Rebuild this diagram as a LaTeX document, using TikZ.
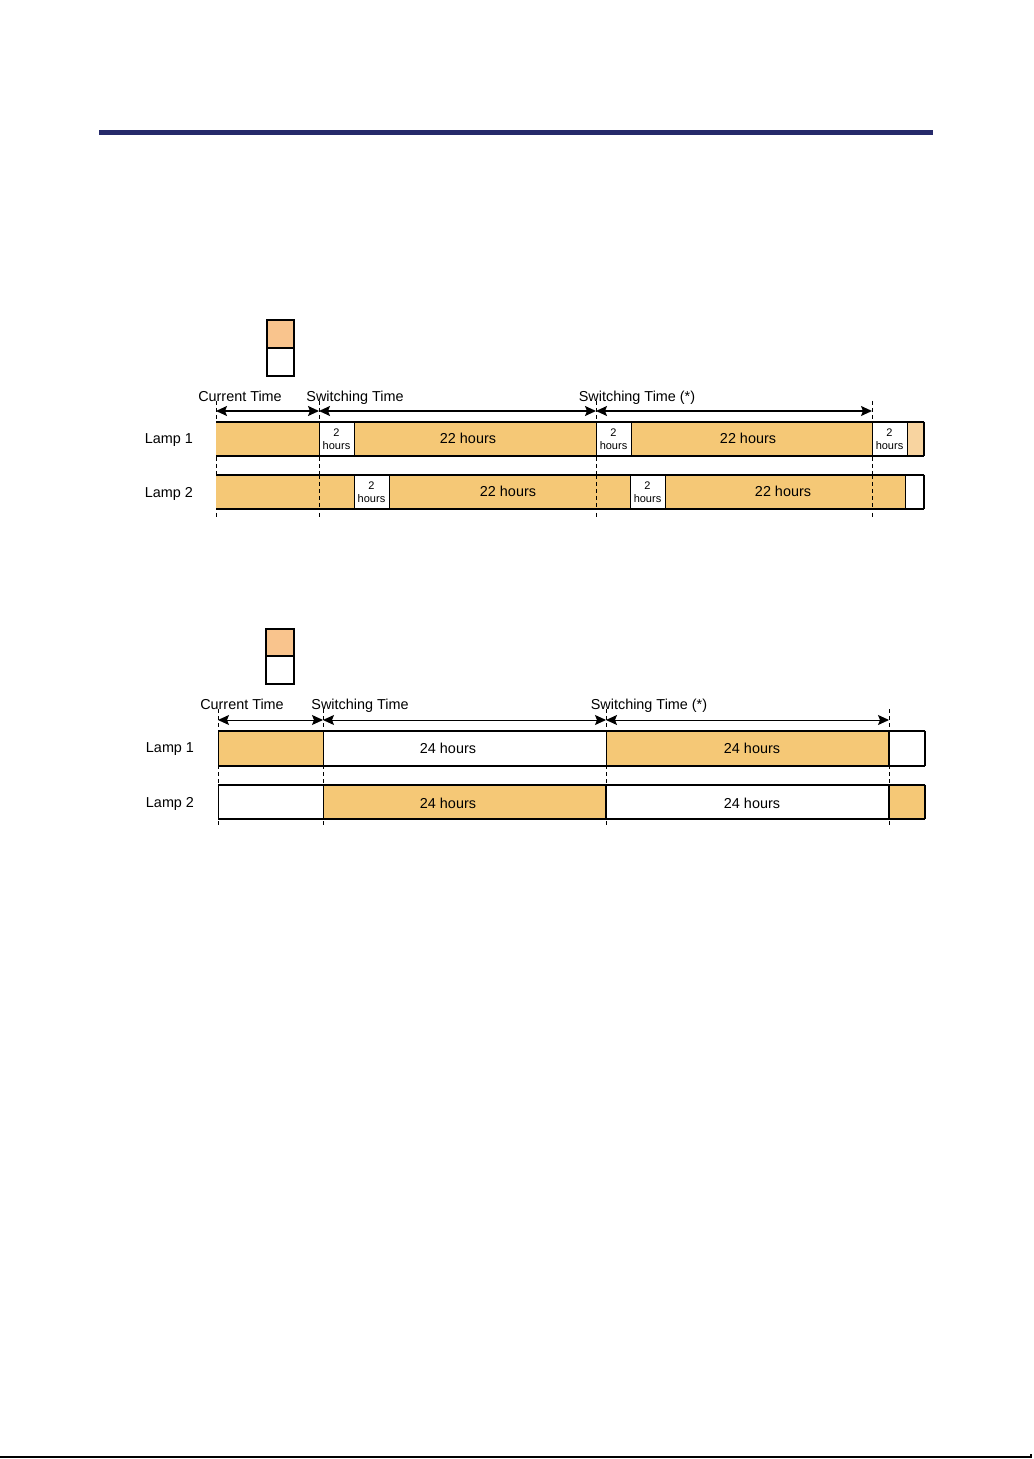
\documentclass[tikz,border=0pt]{standalone}
\usepackage{fontspec}
\setmainfont{Liberation Sans}
\usetikzlibrary{arrows.meta}
\definecolor{lampon}{RGB}{245,200,118}
\definecolor{legon}{RGB}{249,196,141}
\definecolor{lampfade}{RGB}{248,212,160}
\definecolor{rulenavy}{RGB}{38,42,106}

\begin{document}
\begin{tikzpicture}[
  x=0.5pt, y=-0.5pt,
  lbl/.style={font=\fontsize{7.2}{8.5}\selectfont, inner sep=0pt, anchor=base},
  small/.style={font=\fontsize{5.5}{6.75}\selectfont, align=center, inner sep=0pt},
  edge/.style={black, line width=0.7pt},
  sep/.style={black, line width=0.5pt},
  tline/.style={black, line width=0.45pt, dash pattern=on 2pt off 1.5pt},
  span/.style={{Stealth[length=5.5pt,width=5pt,inset=1pt]}-{Stealth[length=5.5pt,width=5pt,inset=1pt]}, line width=0.7pt},
  legbox/.style={draw=black, line width=0.6pt},
]
\useasboundingbox (0,0) rectangle (1033,1459);
% page rules
\fill[rulenavy] (99,130) rectangle (933,135);
\draw[black, line width=0.75pt] (0,1457) -- (1031,1457) -- (1031,1454);

% ---------- upper chart: 2 hour switching ----------
\fill[legon] (267,320) rectangle (294,348);
\draw[legbox] (267,320) rectangle (294,376) (267,348) -- (294,348);
% time marks
\foreach \x/\n in {216/a0, 319/a1, 596/a2, 872/a3}{
  \coordinate (\n) at (\x,411);
  \draw[tline] (\x,401) -- (\x,518);
}
\node[lbl] (curA) at (240,401.5) {Current Time};
\node[lbl] (swA) at (355,401.5) {Switching Time};
\node[lbl] (swsA) at (637,401.5) {Switching Time (*)};
\draw[span] (a0) -- (a1);
\draw[span] (a1) -- (a2);
\draw[span] (a2) -- (a3);
% lamp 1
\foreach \a/\b/\c in {216/319/lampon, 319/354/white, 354/596/lampon, 596/631/white, 631/872/lampon, 872/907/white, 907/924/lampfade}
  \fill[fill=\c] (\a,422) rectangle (\b,456);
\foreach \x in {319,354,596,631,872,907}
  \draw[sep] (\x,422) -- (\x,456);
\draw[edge] (216,422) -- (924,422) (216,456) -- (924,456);
\draw[black, line width=1pt] (924,421.6) -- (924,456.4);
\node[lbl] (lampA1) at (169,443.5) {Lamp 1};
\node[small] (hA1) at (336.5,439) {2\\hours};
\node[lbl] (dA1) at (468,444) {22 hours};
\node[small] (hA2) at (613.5,439) {2\\hours};
\node[lbl] (dA2) at (748,444) {22 hours};
\node[small] (hA3) at (889.5,439) {2\\hours};
% lamp 2
\foreach \a/\b/\c in {216/354/lampon, 354/389/white, 389/630/lampon, 630/665/white, 665/905/lampon, 905/924/white}
  \fill[fill=\c] (\a,475) rectangle (\b,509);
\foreach \x in {354,389,630,665,905}
  \draw[sep] (\x,475) -- (\x,509);
\foreach \x in {319,596,872}
  \draw[tline] (\x,475) -- (\x,509);
\draw[edge] (216,475) -- (924,475) (216,509) -- (924,509);
\draw[black, line width=1pt] (924,474.6) -- (924,509.4);
\node[lbl] (lampA2) at (169,497.5) {Lamp 2};
\node[small] (hA4) at (371.5,492) {2\\hours};
\node[lbl] (dA3) at (508,497) {22 hours};
\node[small] (hA5) at (647.5,492) {2\\hours};
\node[lbl] (dA4) at (783,497) {22 hours};

% ---------- lower chart: 24 hour switching ----------
\fill[legon] (266,629) rectangle (294,656);
\draw[legbox] (266,629) rectangle (294,684) (266,656) -- (294,656);
\foreach \x/\n in {218/b0, 323/b1, 606/b2, 889/b3}{
  \coordinate (\n) at (\x,720);
  \draw[tline] (\x,709) -- (\x,828);
}
\node[lbl] (curB) at (242,709) {Current Time};
\node[lbl] (swB) at (360,709) {Switching Time};
\node[lbl] (swsB) at (649,709) {Switching Time (*)};
\draw[span, line width=0.5pt] (b0) -- (b1);
\draw[span, line width=0.5pt] (b1) -- (b2);
\draw[span, line width=0.5pt] (b2) -- (b3);
% lamp 1
\foreach \a/\b/\c in {218/323/lampon, 323/606/white, 606/889/lampon, 889/925/white}
  \fill[fill=\c] (\a,731) rectangle (\b,766);
\draw[sep] (218,731) -- (218,766) (323,731) -- (323,766) (606,731) -- (606,766);
\draw[black, line width=0.9pt] (889,731) -- (889,766);
\draw[edge] (218,731) -- (925,731) (218,766) -- (925,766);
\draw[black, line width=1pt] (925,730.6) -- (925,766.4);
\node[lbl] (lampB1) at (170,752.7) {Lamp 1};
\node[lbl] (dB1) at (448,753) {24 hours};
\node[lbl] (dB2) at (752,753) {24 hours};
% lamp 2
\foreach \a/\b/\c in {218/323/white, 323/606/lampon, 606/889/white, 889/925/lampon}
  \fill[fill=\c] (\a,785) rectangle (\b,819);
\draw[sep] (218,785) -- (218,819) (323,785) -- (323,819);
\draw[black, line width=0.9pt] (606,785) -- (606,819) (889,785) -- (889,819);
\draw[edge] (218,785) -- (925,785) (218,819) -- (925,819);
\draw[black, line width=1pt] (925,784.6) -- (925,819.4);
\node[lbl] (lampB2) at (170,807) {Lamp 2};
\node[lbl] (dB3) at (448,808) {24 hours};
\node[lbl] (dB4) at (752,808) {24 hours};
\end{tikzpicture}
\end{document}
